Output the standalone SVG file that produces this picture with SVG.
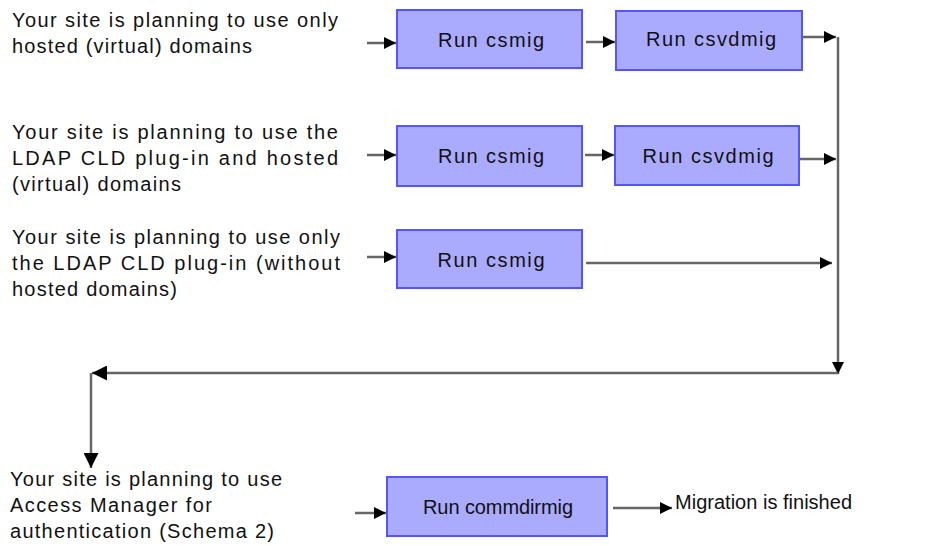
<svg xmlns="http://www.w3.org/2000/svg" width="926" height="546" viewBox="0 0 926 546">
<style>
.bg{fill:#ffffff}
.box{fill:#aaaaff;stroke:#5555ff;stroke-width:2}
.bt{font-family:"Liberation Sans",Arial,sans-serif;font-size:20px;fill:#111;text-anchor:middle}
.lt{font-family:"Liberation Sans",Arial,sans-serif;font-size:20px;fill:#111}
.ln{stroke:#666;stroke-width:2.5;fill:none}
</style>
<defs>
<marker id="ah" viewBox="0 0 10 10" refX="10" refY="5" markerWidth="5" markerHeight="5" orient="auto" markerUnits="strokeWidth">
<path d="M0,0 L10,5 L0,10 z" fill="#000"/>
</marker>
<marker id="ahb" viewBox="0 0 10 10" refX="10" refY="5" markerWidth="7" markerHeight="6" orient="auto" markerUnits="strokeWidth">
<path d="M0,0 L10,5 L0,10 z" fill="#000"/>
</marker>
</defs>
<rect class="bg" width="926" height="546"/>
<g id="labels">
<text class="lt" x="12" y="27" textLength="326" lengthAdjust="spacing">Your site is planning to use only</text>
<text class="lt" x="12" y="53" textLength="240" lengthAdjust="spacing">hosted (virtual) domains</text>
<text class="lt" x="12" y="139" textLength="326" lengthAdjust="spacing">Your site is planning to use the</text>
<text class="lt" x="12" y="165" textLength="326" lengthAdjust="spacing">LDAP CLD plug-in and hosted</text>
<text class="lt" x="12" y="191" textLength="169" lengthAdjust="spacing">(virtual) domains</text>
<text class="lt" x="12" y="244" textLength="328" lengthAdjust="spacing">Your site is planning to use only</text>
<text class="lt" x="12" y="270" textLength="328" lengthAdjust="spacing">the LDAP CLD plug-in (without</text>
<text class="lt" x="12" y="296" textLength="165" lengthAdjust="spacing">hosted domains)</text>
<text class="lt" x="10" y="486" textLength="272" lengthAdjust="spacing">Your site is planning to use</text>
<text class="lt" x="10" y="512" textLength="202" lengthAdjust="spacing">Access Manager for</text>
<text class="lt" x="10" y="538" textLength="264" lengthAdjust="spacing">authentication (Schema 2)</text>
<text class="lt" x="675" y="509" textLength="177" lengthAdjust="spacing">Migration is finished</text>
</g>
<g id="connectors">
<line class="ln" x1="367" y1="43" x2="396" y2="43" marker-end="url(#ah)"/>
<line class="ln" x1="586" y1="42" x2="615" y2="42" marker-end="url(#ah)"/>
<line class="ln" x1="803" y1="37" x2="836" y2="37" marker-end="url(#ah)"/>
<line class="ln" x1="367" y1="155" x2="396" y2="155" marker-end="url(#ah)"/>
<line class="ln" x1="585" y1="155" x2="614" y2="155" marker-end="url(#ah)"/>
<line class="ln" x1="800" y1="159" x2="836" y2="159" marker-end="url(#ah)"/>
<line class="ln" x1="367" y1="257" x2="396" y2="257" marker-end="url(#ah)"/>
<line class="ln" x1="586" y1="263" x2="832" y2="263" marker-end="url(#ah)"/>
<line class="ln" x1="838" y1="37" x2="838" y2="374" marker-end="url(#ah)"/>
<line class="ln" x1="838" y1="373" x2="92" y2="373" marker-end="url(#ahb)"/>
<line class="ln" x1="91" y1="373" x2="91" y2="468" marker-end="url(#ahb)"/>
<line class="ln" x1="355" y1="513" x2="386" y2="513" marker-end="url(#ah)"/>
<line class="ln" x1="613" y1="508" x2="672" y2="508" marker-end="url(#ah)"/>
</g>
<g id="n1"><rect class="box" x="397" y="10" width="185" height="58"/><text class="bt" x="491" y="47" textLength="106" lengthAdjust="spacing">Run csmig</text></g>
<g id="n2"><rect class="box" x="616" y="11" width="186" height="59"/><text class="bt" x="711" y="46" textLength="130" lengthAdjust="spacing">Run csvdmig</text></g>
<g id="n3"><rect class="box" x="397" y="126" width="185" height="60"/><text class="bt" x="491" y="163" textLength="106" lengthAdjust="spacing">Run csmig</text></g>
<g id="n4"><rect class="box" x="615" y="126" width="184" height="59"/><text class="bt" x="708" y="163" textLength="131" lengthAdjust="spacing">Run csvdmig</text></g>
<g id="n5"><rect class="box" x="397" y="230" width="185" height="58"/><text class="bt" x="491" y="267" textLength="107" lengthAdjust="spacing">Run csmig</text></g>
<g id="n6"><rect class="box" x="387" y="477" width="220" height="59"/><text class="bt" x="498" y="514" textLength="150" lengthAdjust="spacing">Run commdirmig</text></g>
</svg>
